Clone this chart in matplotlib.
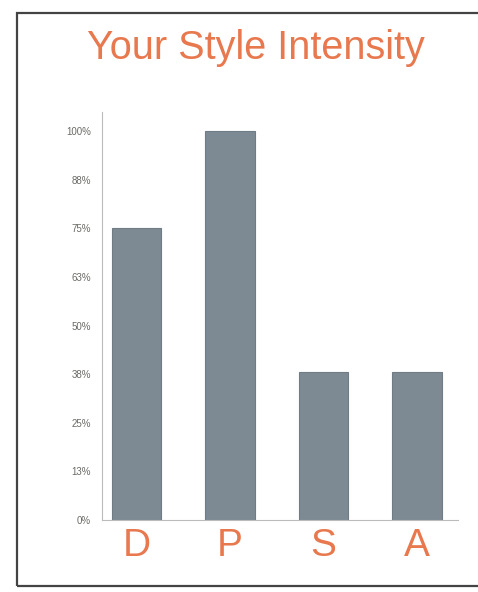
import matplotlib
matplotlib.use("Agg")
import matplotlib.pyplot as plt
from matplotlib.patches import Rectangle

categories = ["D", "P", "S", "A"]
values = [75, 100, 38, 38]
tick_values = [0, 12.5, 25, 37.5, 50, 62.5, 75, 87.5, 100]
tick_labels = ["0%", "13%", "25%", "38%", "50%", "63%", "75%", "88%", "100%"]

ORANGE = "#e8784e"
BAR = "#7d8a94"

fig = plt.figure(figsize=(4.78, 5.92), dpi=100)

# outer frame (right edge runs off the image)
fig.patches.append(Rectangle((17 / 478, 6 / 592), 470 / 478, 573 / 592,
                             transform=fig.transFigure, fill=False,
                             edgecolor="#444444", linewidth=1.6))

ax = fig.add_axes([102 / 478, 72 / 592, 356 / 478, 408 / 592])
x = list(range(len(categories)))
ax.bar(x, values, width=0.53, color=BAR, edgecolor="#6f7c86", linewidth=0.8)

ax.set_xlim(-0.37, 3.44)
ax.set_ylim(0, 104.9)
ax.set_yticks(tick_values)
ax.set_yticklabels(tick_labels, fontsize=7, color="#6a6a66", family="Liberation Sans")
ax.set_xticks(x)
ax.set_xticklabels(categories, fontsize=28, color=ORANGE, family="Liberation Sans")
ax.tick_params(axis="y", length=0, pad=8)
ax.tick_params(axis="x", length=0, pad=6)

for side in ["top", "right"]:
    ax.spines[side].set_visible(False)
ax.spines["left"].set_color("#bbbbbb")
ax.spines["bottom"].set_color("#bbbbbb")

fig.text(256 / 478, 1 - 48 / 592, "Your Style Intensity", ha="center", va="center",
         fontsize=28.5, color=ORANGE, family="Liberation Sans")

fig.savefig("out.png", dpi=100)
